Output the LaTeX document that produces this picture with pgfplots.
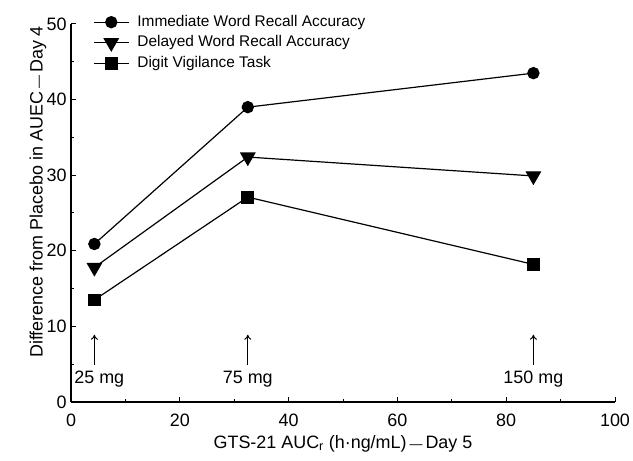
\documentclass[border=0pt]{standalone}
\usepackage{fontspec}
\setmainfont{Liberation Sans}
\usepackage{pgfplots}
\pgfplotsset{compat=1.18}
\usetikzlibrary{arrows.meta}
\newcommand{\bigf}{\fontsize{18}{21}\selectfont}
\newcommand{\legf}{\fontsize{15.5}{18}\selectfont}
\begin{document}
\begin{tikzpicture}
\begin{axis}[
  scale only axis,
  width=544bp, height=378bp,
  xmin=0, xmax=100, ymin=0, ymax=50,
  axis x line*=bottom, axis y line*=left,
  axis line style={line width=1.1bp},
  xtick={0,20,...,100}, ytick={0,10,...,50},
  minor x tick num=1, minor y tick num=1,
  tick align=inside,
  major tick length=5.5bp, minor tick length=3bp,
  tick style={line width=1bp, black},
  /pgf/number format/assume math mode=true,
  tick label style={font=\bigf},
  xticklabel style={anchor=base, yshift=-24bp},
  yticklabel style={anchor=east, xshift=-1bp},
  xlabel={GTS-21 AUC\textsubscript{r} (h·ng/mL)\,{\fontsize{13}{13}\selectfont —}\,Day 5},
  ylabel={Difference from Placebo in AUEC\,{\fontsize{13}{13}\selectfont —}\,Day 4},
  label style={font=\bigf},
  xlabel style={at={(axis description cs:0.5,-0.1217)}, anchor=base},
  ylabel style={at={(axis description cs:-0.0607,0.556)}, anchor=center},
  legend style={at={(axis description cs:0.0404,1.0278)}, anchor=north west,
    draw=none, fill=none, font=\legf, inner sep=0pt, column sep=7bp, row sep=3.5bp,
    nodes={inner sep=1bp, text height=11.5bp, text depth=3.5bp}},
  legend cell align=left,
  legend image code/.code={\draw[mark repeat=2,mark phase=2] plot coordinates {(0bp,0bp) (17.5bp,0bp) (35bp,0bp)};},
  every axis plot/.append style={black, line width=1.2bp},
]
\addplot[mark=*, mark size=5.6bp, mark options={solid, fill=black}] coordinates {(4.3,20.9) (32.5,39.0) (85,43.5)};
\addlegendentry{Immediate Word Recall Accuracy}
\addplot[mark=triangle*, mark size=8bp, mark options={solid, fill=black, rotate=180}] coordinates {(4.3,17.8) (32.5,32.4) (85,29.9)};
\addlegendentry{Delayed Word Recall Accuracy}
\addplot[mark=square*, mark size=5.8bp, mark options={solid, fill=black}] coordinates {(4.3,13.5) (32.5,27.1) (85,18.2)};
\addlegendentry{Digit Vigilance Task}
\draw[line width=1bp, -{To[length=5bp,width=7bp]}] (axis cs:4.3,4.9) -- (axis cs:4.3,8.9);
\draw[line width=1bp, -{To[length=5bp,width=7bp]}] (axis cs:32.5,4.9) -- (axis cs:32.5,8.9);
\draw[line width=1bp, -{To[length=5bp,width=7bp]}] (axis cs:85,4.9) -- (axis cs:85,8.9);
\node[font=\bigf, anchor=base, inner sep=0pt] at (axis cs:5.2,2.5) {25 mg};
\node[font=\bigf, anchor=base, inner sep=0pt] at (axis cs:32.5,2.5) {75 mg};
\node[font=\bigf, anchor=base, inner sep=0pt] at (axis cs:85,2.5) {150 mg};
\end{axis}
\pgfresetboundingbox
\path ([xshift=-71bp,yshift=-59bp]current axis.south west) rectangle ([xshift=562bp,yshift=402bp]current axis.south west);
\end{tikzpicture}
\end{document}
